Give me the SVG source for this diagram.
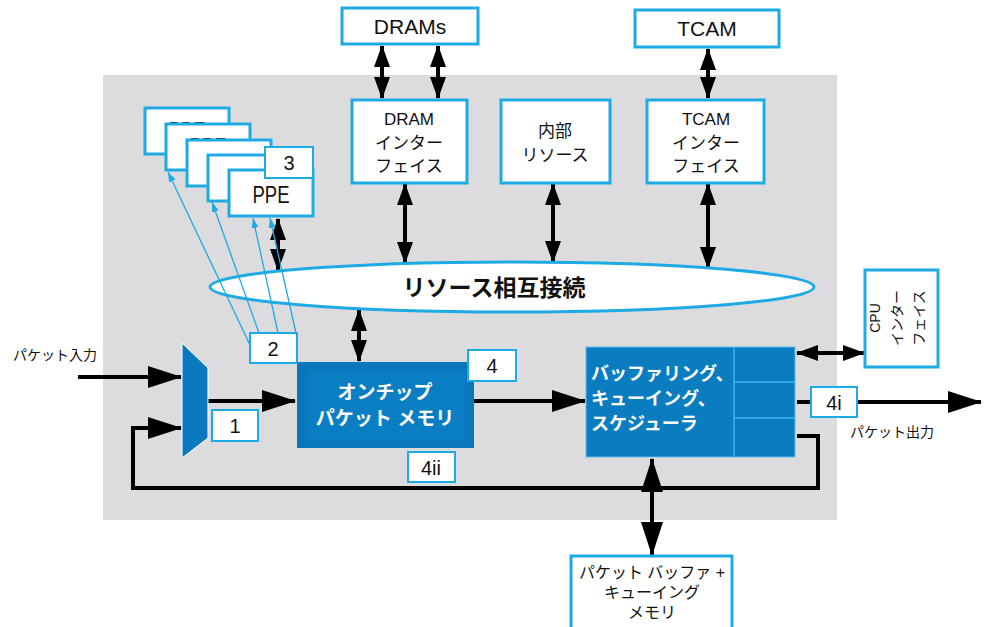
<svg xmlns="http://www.w3.org/2000/svg" width="984" height="627" viewBox="0 0 984 627">
<style>
.t{font-family:"Liberation Sans","Noto Sans CJK JP",sans-serif;fill:#111;text-anchor:middle}
.j{font-family:"Liberation Sans","Noto Sans CJK JP",sans-serif;fill:#111}
.w{font-family:"Liberation Sans","Noto Sans CJK JP",sans-serif;fill:#fff;font-weight:bold}
.box{fill:#fff;stroke:#1eaae4;stroke-width:3}
.sbox{fill:#fff;stroke:#1eaae4;stroke-width:2}
.k{stroke:#000;stroke-width:4;fill:none}
.bl{stroke:#1eaae4;stroke-width:1.3;fill:none}
</style>
<defs>
<marker id="big" markerUnits="userSpaceOnUse" viewBox="0 0 34 22" refX="33" refY="11" markerWidth="34" markerHeight="22" orient="auto-start-reverse"><path d="M0,0 L34,11 L0,22 z" fill="#000"/></marker>
<marker id="sm" markerUnits="userSpaceOnUse" viewBox="0 0 22 16" refX="21" refY="8" markerWidth="22" markerHeight="16" orient="auto-start-reverse"><path d="M0,0 L22,8 L0,16 z" fill="#000"/></marker>
<marker id="th" markerUnits="userSpaceOnUse" viewBox="0 0 10 7" refX="10" refY="3.5" markerWidth="10" markerHeight="7" orient="auto"><path d="M0,0 L10,3.5 L0,7 z" fill="#1eaae4"/></marker>
</defs>
<rect width="984" height="627" fill="#fff"/>
<rect x="103" y="75" width="734" height="445" fill="#dcdcde"/>

<g id="connectors">
<line class="k" x1="382" y1="46" x2="382" y2="98" marker-start="url(#sm)" marker-end="url(#sm)"/>
<line class="k" x1="438" y1="46" x2="438" y2="98" marker-start="url(#sm)" marker-end="url(#sm)"/>
<line class="k" x1="708" y1="49" x2="708" y2="98" marker-start="url(#sm)" marker-end="url(#sm)"/>
<line class="k" x1="405" y1="184" x2="405" y2="263" marker-start="url(#sm)" marker-end="url(#sm)"/>
<line class="k" x1="553" y1="184" x2="553" y2="262" marker-start="url(#sm)" marker-end="url(#sm)"/>
<line class="k" x1="708" y1="184" x2="708" y2="268" marker-start="url(#sm)" marker-end="url(#sm)"/>
<line class="k" x1="278" y1="219" x2="278" y2="270" marker-start="url(#sm)" marker-end="url(#sm)"/>
<line class="k" x1="359" y1="310" x2="359" y2="361" marker-start="url(#sm)" marker-end="url(#sm)"/>
<line class="k" x1="78" y1="377" x2="181" y2="377" marker-end="url(#big)"/>
<line class="k" x1="208" y1="401" x2="295" y2="401" marker-end="url(#big)"/>
<polyline class="k" points="652,488 133,488 133,428 181,428" marker-end="url(#big)"/>
<polyline class="k" points="797,436 818,436 818,488 650,488"/>
<line class="k" x1="474" y1="401" x2="585" y2="401" marker-end="url(#big)"/>
<line class="k" x1="797" y1="353" x2="864" y2="353" marker-start="url(#sm)" marker-end="url(#sm)"/>
<line class="k" x1="797" y1="402" x2="981" y2="402" marker-end="url(#big)"/>
<line class="k" x1="652" y1="459" x2="652" y2="555" marker-start="url(#big)" marker-end="url(#big)"/>
</g>

<g id="dram"><rect class="box" x="342" y="8" width="136" height="36"/><text class="t" x="410" y="34" font-size="21">DRAMs</text></g>
<g id="tcam"><rect class="box" x="635" y="10" width="144" height="37"/><text class="t" x="707" y="36" font-size="21">TCAM</text></g>
<g id="dram-if"><rect class="box" x="352" y="100" width="115" height="83"/>
<text class="t" x="409" y="125" font-size="17">DRAM</text><text class="t" x="409" y="149" font-size="17">インター</text><text class="t" x="409" y="172" font-size="17">フェイス</text></g>
<g id="internal"><rect class="box" x="501" y="100" width="109" height="83"/>
<text class="t" x="555" y="137" font-size="17">内部</text><text class="t" x="555" y="161" font-size="17">リソース</text></g>
<g id="tcam-if"><rect class="box" x="647" y="100" width="117" height="83"/>
<text class="t" x="706" y="125" font-size="17">TCAM</text><text class="t" x="706" y="149" font-size="17">インター</text><text class="t" x="706" y="172" font-size="17">フェイス</text></g>

<g id="ppe1"><rect class="box" x="145" y="108" width="84" height="46"/><text class="t" x="187" y="139" font-size="24" textLength="37" lengthAdjust="spacingAndGlyphs">PPE</text></g>
<g id="ppe2"><rect class="box" x="166" y="124" width="84" height="46"/><text class="t" x="208" y="155" font-size="24" textLength="37" lengthAdjust="spacingAndGlyphs">PPE</text></g>
<g id="ppe3"><rect class="box" x="187" y="140" width="84" height="46"/><text class="t" x="229" y="171" font-size="24" textLength="37" lengthAdjust="spacingAndGlyphs">PPE</text></g>
<g id="ppe4"><rect class="box" x="208" y="155" width="84" height="46"/><text class="t" x="250" y="186" font-size="24" textLength="37" lengthAdjust="spacingAndGlyphs">PPE</text></g>
<g id="ppe5"><rect class="box" x="229" y="170" width="84" height="46"/><text class="t" x="271" y="203" font-size="24" textLength="37" lengthAdjust="spacingAndGlyphs">PPE</text></g>
<g id="lbl3"><rect class="sbox" x="265" y="147" width="48" height="31"/><text class="t" x="289" y="170" font-size="20">3</text></g>

<g id="interconnect"><ellipse cx="512" cy="287" rx="302" ry="25" fill="#fff" stroke="#1eaae4" stroke-width="3"/>
<text class="t" x="494" y="296" font-size="23" font-weight="bold">リソース相互接続</text></g>

<g id="ppe-links">
<line class="bl" x1="250" y1="345" x2="168" y2="172" marker-end="url(#th)"/>
<line class="bl" x1="259" y1="333" x2="212" y2="202" marker-end="url(#th)"/>
<line class="bl" x1="278" y1="333" x2="253" y2="218" marker-end="url(#th)"/>
<line class="bl" x1="296" y1="333" x2="270" y2="218" marker-end="url(#th)"/>
</g>
<g id="lbl2"><rect class="sbox" x="250" y="333" width="47" height="30"/><text class="t" x="273" y="356" font-size="20">2</text></g>

<g id="mux"><polygon points="182,343 208,368 208,438 182,458" fill="#0a79bd" stroke="#fff" stroke-width="1"/></g>
<g id="lbl1"><rect class="sbox" x="212" y="410" width="46" height="31"/><text class="t" x="235" y="433" font-size="20">1</text></g>
<text class="j" x="13" y="360" font-size="14">パケット入力</text>

<g id="memory"><rect x="297" y="362" width="177" height="86" fill="#0978bb"/><rect x="307" y="370" width="158" height="70" fill="#0a7ec2"/>
<text class="w" x="385" y="399" font-size="19" text-anchor="middle">オンチップ</text>
<text class="w" x="385" y="425" font-size="19" text-anchor="middle">パケット メモリ</text></g>
<g id="lbl4"><rect class="sbox" x="468" y="350" width="48" height="31"/><text class="t" x="492" y="373" font-size="20">4</text></g>
<g id="lbl4ii"><rect class="sbox" x="408" y="452" width="47" height="30"/><text class="t" x="431" y="475" font-size="20">4ii</text></g>

<g id="scheduler"><rect x="586" y="347" width="209" height="110" fill="#0a7dc1" stroke="#5fbfe8" stroke-width="1"/>
<path d="M734,347 V457 M734,382 H795 M734,418 H795" stroke="#3fb5ea" stroke-width="1.5" fill="none"/>
<text class="w" x="591" y="380" font-size="18">バッファリング、</text>
<text class="w" x="591" y="405" font-size="18">キューイング、</text>
<text class="w" x="591" y="430" font-size="18">スケジューラ</text></g>

<g id="cpu"><rect class="box" x="865" y="270" width="73" height="97"/>
<g transform="rotate(-90 901 318)"><text class="t" x="901" y="297" font-size="14">CPU</text><text class="t" x="901" y="319" font-size="14">インター</text><text class="t" x="901" y="341" font-size="14">フェイス</text></g></g>
<g id="lbl4i"><rect class="sbox" x="811" y="387" width="46" height="30"/><text class="t" x="834" y="410" font-size="20">4i</text></g>
<text class="j" x="850" y="437" font-size="14">パケット出力</text>

<g id="buffer"><rect class="box" x="571" y="556" width="161" height="80"/>
<text class="t" x="652" y="578" font-size="16">パケット バッファ +</text>
<text class="t" x="652" y="598" font-size="16">キューイング</text>
<text class="t" x="652" y="618" font-size="16">メモリ</text></g>
</svg>
